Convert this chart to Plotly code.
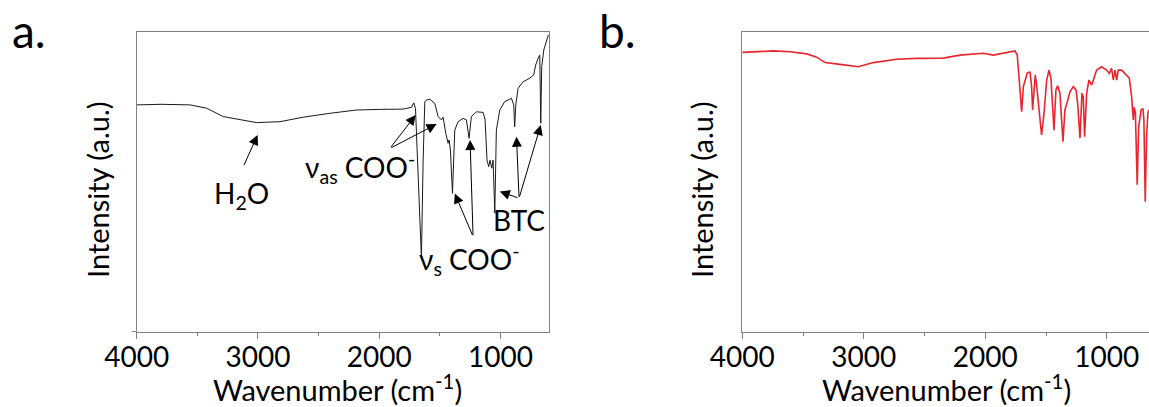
import plotly.graph_objects as go

# ---------------- data ----------------
wn_a = [4000, 3800, 3561, 3423, 3286, 3149, 3011, 2819, 2627, 2407,
        2187, 1995, 1803, 1734, 1715, 1701, 1679, 1652, 1638, 1624,
        1610, 1583, 1542, 1514, 1487, 1473, 1451, 1432, 1424, 1413,
        1396, 1377, 1350, 1308, 1281, 1259, 1240, 1198, 1143, 1127,
        1111, 1097, 1086, 1072, 1061, 1047, 1034, 1006, 965, 910,
        891, 883, 874, 855, 814, 759, 726, 710, 690, 676,
        668, 660, 643, 627, 605]
int_a = [75.6, 75.8, 75.6, 74.5, 71.7, 70.6, 69.7, 70.0, 71.5, 72.8,
         73.9, 74.1, 74.2, 74.8, 76.3, 74.4, 53.9, 24.5, 57.2, 76.7,
         77.2, 77.5, 76.1, 71.7, 70.6, 71.5, 66.1, 62.8, 63.9, 60.6,
         46.1, 67.2, 70.0, 71.1, 70.6, 64.5, 71.7, 73.3, 73.1, 70.6,
         57.2, 55.0, 57.2, 54.5, 57.2, 39.5, 67.2, 73.9, 76.7, 77.8,
         75.6, 68.3, 75.6, 81.1, 83.3, 84.5, 85.6, 88.9, 91.1, 92.2,
         69.5, 88.3, 93.9, 96.1, 98.9]

wn_b = [4000, 3882, 3745, 3607, 3470, 3388, 3319, 3196, 3045, 2922,
        2730, 2565, 2346, 2209, 2017, 1934, 1825, 1756, 1737, 1720,
        1701, 1687, 1654, 1632, 1619, 1611, 1600, 1589, 1578, 1564,
        1537, 1517, 1495, 1476, 1460, 1435, 1419, 1405, 1386, 1361,
        1345, 1325, 1303, 1276, 1254, 1240, 1221, 1205, 1194, 1183,
        1166, 1147, 1125, 1111, 1084, 1043, 1002, 980, 961, 947,
        933, 919, 906, 878, 837, 815, 796, 782, 775, 765,
        750, 738, 718, 703, 695, 684, 673, 662, 653]
int_b = [93.1, 93.3, 93.6, 93.3, 92.6, 91.5, 89.7, 89.1, 88.3, 89.7,
         90.8, 91.1, 91.2, 92.2, 92.8, 92.2, 93.0, 93.6, 92.2, 83.9,
         73.3, 81.7, 86.3, 86.5, 81.7, 73.9, 81.7, 85.6, 82.2, 76.7,
         65.6, 72.8, 83.9, 87.2, 84.5, 67.2, 80.6, 82.0, 79.5, 63.3,
         73.9, 76.7, 80.0, 81.7, 80.6, 76.1, 64.5, 79.5, 78.3, 65.0,
         79.5, 83.9, 82.2, 83.9, 87.2, 88.3, 87.2, 86.1, 87.8, 83.9,
         87.2, 83.9, 87.2, 87.2, 85.6, 84.5, 78.3, 70.6, 74.8, 73.0,
         49.0, 68.3, 73.9, 74.4, 70.6, 43.3, 65.0, 72.8, 74.0]

assert len(wn_a) == len(int_a) and len(wn_b) == len(int_b)

tick_vals = [4000, 3000, 2000, 1000]
tick_text = ["4000", "3000", "2000", "1000"]

# annotation labels: (text, x, y)
labels_a = [
    ("H<sub>2</sub>O", 3132, 45.6),
    ("ν<sub>as</sub> COO<sup>-</sup>", 2160, 54.9),
    ("ν<sub>s</sub> COO<sup>-</sup>", 1262, 24.0),
    ("BTC", 846, 37.2),
]
# arrows: (tail_x, tail_y, head_x, head_y)
arrows_a = [
    (3121, 55.0, 3003, 65.6),
    (1912, 61.1, 1700, 72.2),
    (1912, 61.1, 1527, 69.2),
    (1226, 31.7, 1377, 46.1),
    (1226, 31.7, 1251, 63.9),
    (847, 44.5, 1006, 46.7),
    (847, 44.5, 868, 65.0),
    (847, 44.5, 668, 68.9),
]

FONT = "Lato, 'Open Sans', sans-serif"
AXIS_COLOR = "#808080"

fig = go.Figure()
fig.add_trace(go.Scatter(x=wn_a, y=int_a, mode="lines",
                         line=dict(color="#1a1a1a", width=1),
                         xaxis="x", yaxis="y", showlegend=False))
fig.add_trace(go.Scatter(x=wn_b, y=int_b, mode="lines",
                         line=dict(color="#e8262d", width=1.6),
                         xaxis="x2", yaxis="y2", showlegend=False))

W, H = 1149, 407
ax_a = (136.7, 549.0)
ax_b = (742.3, 1149.0)
top, bot = 31.7, 331.7
ydom = [1 - bot / H, 1 - top / H]

common_x = dict(tickmode="array", tickvals=tick_vals, ticktext=tick_text,
                ticks="outside", ticklen=6, tickwidth=1, tickcolor=AXIS_COLOR,
                showline=True, linecolor=AXIS_COLOR, linewidth=1,
                showgrid=False, zeroline=False, mirror=True, automargin=False,
                ticklabelstandoff=-5,
                tickfont=dict(family=FONT, size=28, color="black"),
                minor=dict(tickvals=[3500, 2500, 1500], ticks="outside",
                           ticklen=3, tickcolor=AXIS_COLOR, tickwidth=1,
                           showgrid=False))

fig.update_layout(
    template="none",
    width=W, height=H,
    margin=dict(l=0, r=0, t=0, b=0, pad=0),
    paper_bgcolor="white", plot_bgcolor="white",
    font=dict(family=FONT, color="black"),
    showlegend=False,
    xaxis=dict(domain=[ax_a[0] / W, ax_a[1] / W], range=[4000, 600],
               anchor="y", **common_x),
    yaxis=dict(domain=ydom, range=[0, 100], anchor="x", automargin=False,
               showline=True, linecolor=AXIS_COLOR, linewidth=1, mirror=True,
               showgrid=False, zeroline=False, tickmode="array", tickvals=[0],
               ticks="outside", ticklen=4, tickcolor=AXIS_COLOR,
               showticklabels=False),
    xaxis2=dict(domain=[ax_b[0] / W, 1.0], range=[4000, 653],
                anchor="y2", **common_x),
    yaxis2=dict(domain=ydom, range=[0, 100], anchor="x2", automargin=False,
                showline=True, linecolor=AXIS_COLOR, linewidth=1, mirror=False,
                showgrid=False, zeroline=False, showticklabels=False, ticks=""),
)

ann = []
for txt, x, y in labels_a:
    ann.append(dict(text=txt, x=x, y=y, xref="x", yref="y", showarrow=False,
                    font=dict(family=FONT, size=28, color="black"),
                    xanchor="center", yanchor="middle"))
for tx, ty, hx, hy in arrows_a:
    ann.append(dict(text="", x=hx, y=hy, xref="x", yref="y",
                    ax=tx, ay=ty, axref="x", ayref="y", showarrow=True,
                    arrowhead=2, arrowsize=2, arrowwidth=1, arrowcolor="black"))

# panel letters
ann.append(dict(text="a.", x=10 / W, y=1 - 30 / H, xref="paper", yref="paper",
                showarrow=False, xanchor="left", yanchor="middle",
                font=dict(family=FONT, size=46, color="black")))
ann.append(dict(text="b.", x=597 / W, y=1 - 30 / H, xref="paper", yref="paper",
                showarrow=False, xanchor="left", yanchor="middle",
                font=dict(family=FONT, size=46, color="black")))

# axis titles
for cx in (337 / W, 946 / W):
    ann.append(dict(text="Wavenumber (cm<sup>-1</sup>)", x=cx, y=1 - 388 / H,
                    xref="paper", yref="paper", showarrow=False,
                    xanchor="center", yanchor="middle",
                    font=dict(family=FONT, size=29, color="black")))
for cx in (97 / W, 701 / W):
    ann.append(dict(text="Intensity (a.u.)", x=cx, y=1 - 190 / H,
                    xref="paper", yref="paper", showarrow=False, textangle=-90,
                    xanchor="center", yanchor="middle",
                    font=dict(family=FONT, size=29, color="black")))

fig.update_layout(annotations=ann)
fig.write_html("out.html")
